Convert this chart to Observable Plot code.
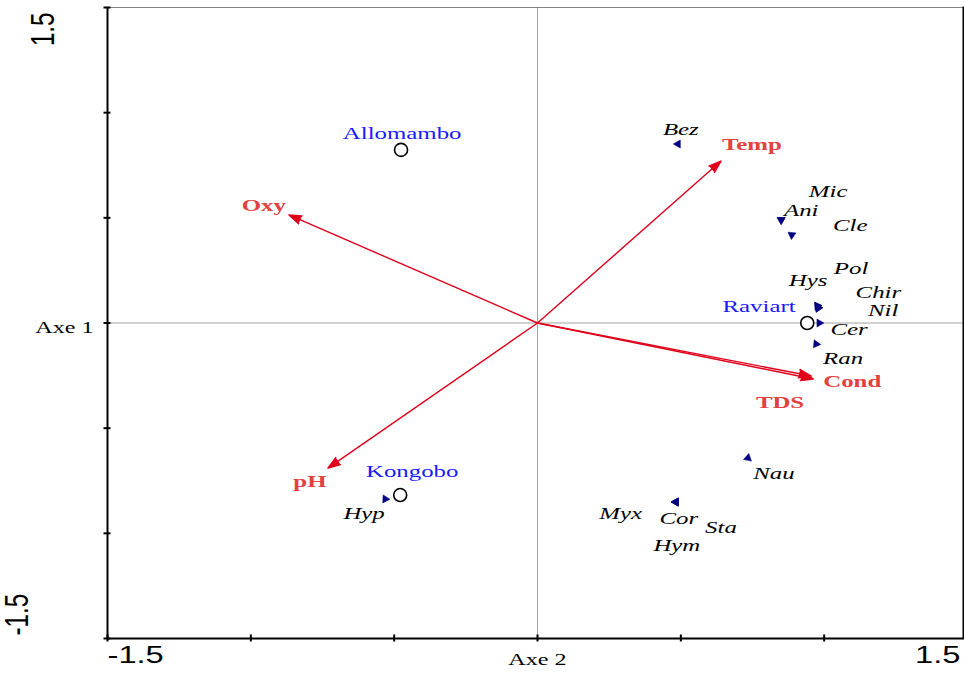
<!DOCTYPE html>
<html><head><meta charset="utf-8">
<script src="https://cdn.jsdelivr.net/npm/d3@7"></script>
<script src="https://cdn.jsdelivr.net/npm/@observablehq/plot@0.6"></script>
<style>body{margin:0;background:#fff;} svg{display:block}</style>
</head><body><div id="chart"></div>
<script>
// ---- data ----
const axisTicks = [-1.5, -1.0, -0.5, 0, 0.5, 1.0, 1.5];
const xTickLabels = ["-1.5", "1.5"];
const xTickValues = [-1.5, 1.5];
const yTickLabels = ["1.5", "-1.5"];
const yTickValues = [1.5, -1.5];
const xAxisTitle = "Axe 2";
const yAxisTitle = "Axe 1";

const siteNames = ["Allomambo", "Raviart", "Kongobo"];
const siteX = [-0.476, 0.941, -0.479];
const siteY = [0.823, 0.0, -0.818];
const siteLabelX = [-0.472, 0.773, -0.437];
const siteLabelY = [0.903, 0.081, -0.704];

const envNames = ["Temp", "Oxy", "pH", "Cond", "TDS"];
const envX = [0.640, -0.867, -0.731, 0.962, 0.955];
const envY = [0.770, 0.514, -0.690, -0.266, -0.252];
const envLabelX = [0.748, -0.955, -0.794, 1.098, 0.846];
const envLabelY = [0.851, 0.561, -0.751, -0.276, -0.376];

const speciesNames = ["Bez","Mic","Ani","Cle","Hys","Pol","Chir","Nil","Cer","Ran","Nau","Myx","Cor","Sta","Hym","Hyp"];
const speciesX = [0.490, 0.850, 0.850, 0.887, 0.976, 0.976, 0.979, 0.979, 0.983, 0.972, 0.734, 0.483, 0.483, 0.483, 0.483, -0.531];
const speciesY = [0.851, 0.490, 0.490, 0.419, 0.081, 0.081, 0.071, 0.071, 0.0, -0.100, -0.642, -0.851, -0.851, -0.851, -0.851, -0.837];
const speciesLabelX = [0.500, 1.014, 0.920, 1.091, 0.944, 1.094, 1.189, 1.206, 1.087, 1.066, 0.825, 0.290, 0.493, 0.640, 0.486, -0.605];
const speciesLabelY = [0.922, 0.628, 0.537, 0.466, 0.204, 0.262, 0.147, 0.062, -0.029, -0.166, -0.713, -0.903, -0.927, -0.970, -1.056, -0.903];

// ---- tables ----
const sites = siteNames.map((n, i) => ({name: n, x: siteX[i], y: siteY[i], lx: siteLabelX[i], ly: siteLabelY[i]}));
const envs = envNames.map((n, i) => ({name: n, x: envX[i], y: envY[i], lx: envLabelX[i], ly: envLabelY[i]}));
const species = speciesNames.map((n, i) => ({name: n, x: speciesX[i], y: speciesY[i], lx: speciesLabelX[i], ly: speciesLabelY[i]}));
const xLabs = xTickLabels.map((t, i) => ({t, v: xTickValues[i]}));
const yLabs = yTickLabels.map((t, i) => ({t, v: yTickValues[i]}));

const serif = "'Liberation Serif','Times New Roman',serif";
const sans = "'Liberation Sans',Arial,sans-serif";
const arrowRed = "#e0001b";
const labelRed = "#e34040";
const blue = "#1a1aff";
const navy = "#000080";

const plot = Plot.plot({
  width: 964, height: 673,
  marginLeft: 107, marginRight: 1, marginTop: 7, marginBottom: 35,
  style: {background: "white", fontFamily: serif},
  x: {domain: [-1.5, 1.5], range: [107, 967]},
  y: {domain: [-1.5, 1.5]},
  marks: [
    Plot.ruleX([0], {stroke: "#8c8c8c", strokeWidth: 0.8}),
    Plot.ruleY([0], {stroke: "#8c8c8c", strokeWidth: 0.8}),
    Plot.frame({stroke: "#666", strokeWidth: 0.8}),
    Plot.frame({anchor: "right", stroke: "black", strokeWidth: 2}),
    Plot.ruleX([-1.5], {stroke: "black", strokeWidth: 2}),
    Plot.ruleY([-1.5], {stroke: "black", strokeWidth: 2}),
    Plot.axisX(axisTicks, {tickSize: 7, dy: -3.5, tickFormat: () => "", label: null, strokeWidth: 2}),
    Plot.axisY(axisTicks, {anchor: "left", tickSize: 7, dx: 3.5, tickFormat: () => "", label: null, strokeWidth: 2}),
    Plot.arrow(envs, {x1: 0, y1: 0, x2: "x", y2: "y", stroke: arrowRed, fill: arrowRed, strokeWidth: 1.4, headLength: 14, headAngle: 38}),
    Plot.dot(sites, {x: "x", y: "y", r: 6.5, stroke: "black", fill: "white", strokeWidth: 1.6}),
    Plot.dot(species, {x: "x", y: "y", symbol: "triangle", r: 3, fill: navy, stroke: navy, strokeWidth: 0.5,
      rotate: d => Math.atan2(d.x, d.y) * 180 / Math.PI}),
    Plot.text(sites, {x: "lx", y: "ly", text: "name", fill: blue, fontSize: 17.5, fontFamily: serif}),
    Plot.text(envs, {x: "lx", y: "ly", text: "name", fill: labelRed, fontSize: 17.5, fontWeight: "bold", fontFamily: serif}),
    Plot.text(species, {x: "lx", y: "ly", text: "name", fill: "black", fontSize: 17.5, fontStyle: "italic", fontFamily: serif}),
    Plot.text(xLabs.slice(0, 1), {x: "v", text: "t", frameAnchor: "bottom", dy: 24, textAnchor: "start", fontFamily: sans, fontSize: 23, fill: "black"}),
    Plot.text(xLabs.slice(1), {x: "v", text: "t", frameAnchor: "bottom", dy: 24, dx: -7, textAnchor: "end", fontFamily: sans, fontSize: 23, fill: "black"}),
    Plot.text(yLabs.slice(0, 1), {y: "v", text: "t", frameAnchor: "left", dx: -64, dy: 5, rotate: -90, textAnchor: "end", fontFamily: sans, fontSize: 34, fill: "black"}),
    Plot.text(yLabs.slice(1), {y: "v", text: "t", frameAnchor: "left", dx: -90, dy: -3, rotate: -90, textAnchor: "start", fontFamily: sans, fontSize: 34, fill: "black"}),
    Plot.text([yAxisTitle], {y: 0, text: d => d, frameAnchor: "left", dx: -43, dy: 5, textAnchor: "middle", fontSize: 17, fontFamily: serif, fill: "black"}),
    Plot.text([xAxisTitle], {x: 0, text: d => d, frameAnchor: "bottom", dy: 26, textAnchor: "middle", fontSize: 17, fontFamily: serif, fill: "black"})
  ]
});
document.getElementById("chart").appendChild(plot);

// the reference glyphs are stretched horizontally (~1.42x)
plot.querySelectorAll("text").forEach(el => {
  const len = el.getComputedTextLength();
  if (!len) return;
  const tr = el.getAttribute("transform") || "";
  const f = tr.includes("rotate") ? 0.71 : 1.42;
  el.setAttribute("textLength", (len * f).toFixed(1));
  el.setAttribute("lengthAdjust", "spacingAndGlyphs");
});
</script>
</body></html>
